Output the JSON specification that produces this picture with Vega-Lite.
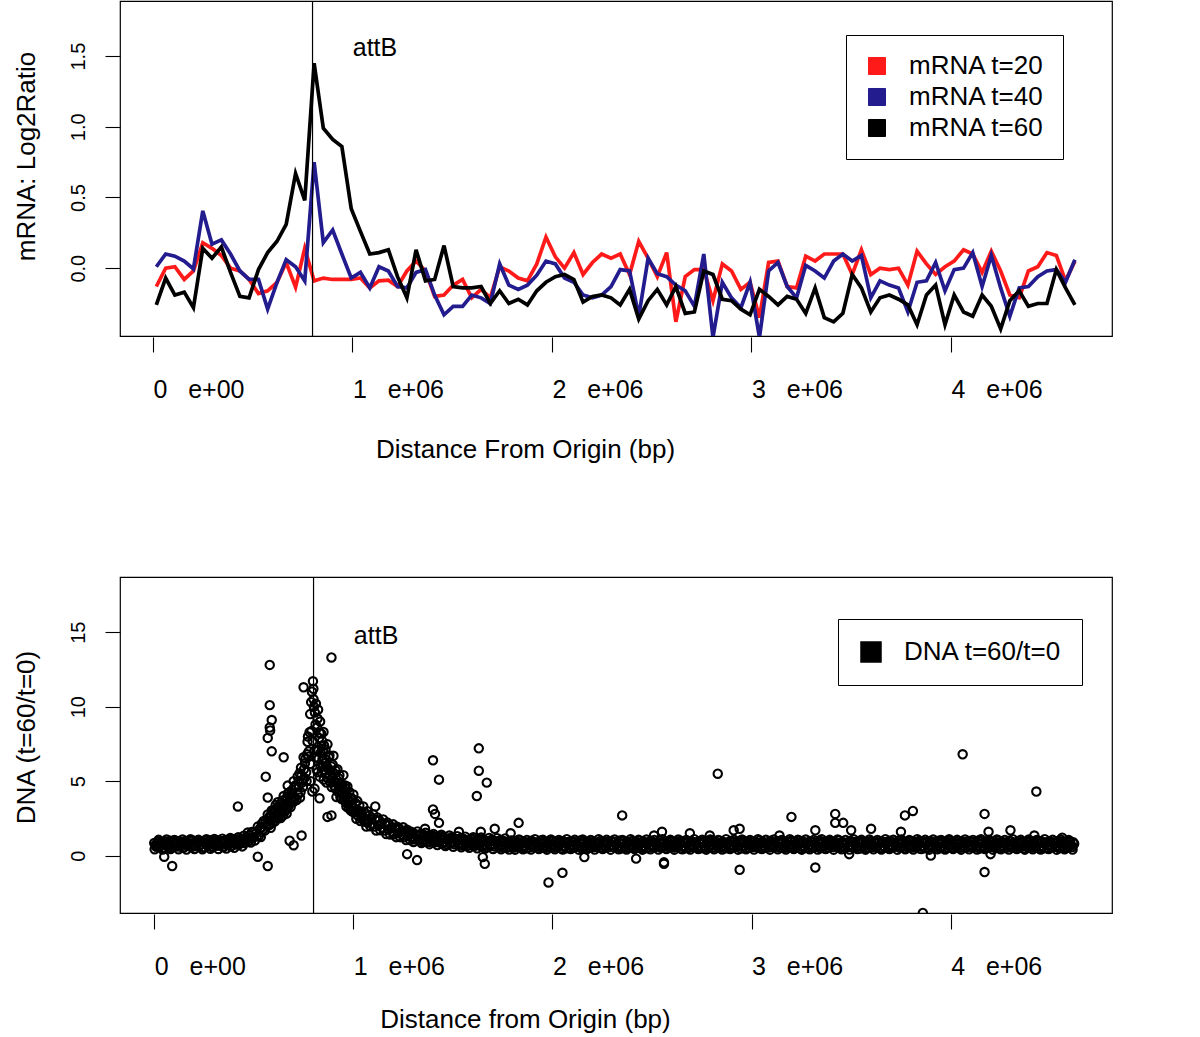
{
"$schema":"https://vega.github.io/schema/vega-lite/v6.json",
"background":"white",
"padding":{"left":12,"top":-1,"right":0,"bottom":0},
"spacing":112,
"resolve":{"scale":{"color":"independent"},"legend":{"color":"independent"}},
"config":{
"font":"Liberation Sans",
"view":{"stroke":"black","strokeWidth":1.2},
"axis":{"grid":false,"domain":false,"tickColor":"black","tickWidth":1.1,"tickSize":15,"labelColor":"black","titleColor":"black","labelFont":"Liberation Sans","titleFont":"Liberation Sans","titleFontWeight":"normal","labelFlush":false,"labelOverlap":false,"labelBound":false},
"legend":{"labelFont":"Liberation Sans","labelFontSize":26,"labelColor":"black","strokeColor":"black","fillColor":"white"}
},
"datasets":{
"mrna":[
{"x":0.017,"s":"mRNA t=20","v":-0.13},{"x":0.064,"s":"mRNA t=20","v":0.00},{"x":0.110,"s":"mRNA t=20","v":0.01},{"x":0.157,"s":"mRNA t=20","v":-0.08},{"x":0.203,"s":"mRNA t=20","v":-0.02},{"x":0.250,"s":"mRNA t=20","v":0.18},{"x":0.296,"s":"mRNA t=20","v":0.14},{"x":0.343,"s":"mRNA t=20","v":0.09},{"x":0.389,"s":"mRNA t=20","v":0.00},{"x":0.436,"s":"mRNA t=20","v":-0.02},
{"x":0.482,"s":"mRNA t=20","v":-0.08},{"x":0.529,"s":"mRNA t=20","v":-0.18},{"x":0.575,"s":"mRNA t=20","v":-0.16},{"x":0.622,"s":"mRNA t=20","v":-0.10},{"x":0.668,"s":"mRNA t=20","v":0.04},{"x":0.715,"s":"mRNA t=20","v":-0.135},{"x":0.761,"s":"mRNA t=20","v":0.14},{"x":0.808,"s":"mRNA t=20","v":-0.09},{"x":0.854,"s":"mRNA t=20","v":-0.07},{"x":0.901,"s":"mRNA t=20","v":-0.08},
{"x":0.947,"s":"mRNA t=20","v":-0.08},{"x":0.994,"s":"mRNA t=20","v":-0.08},{"x":1.040,"s":"mRNA t=20","v":-0.07},{"x":1.087,"s":"mRNA t=20","v":-0.14},{"x":1.133,"s":"mRNA t=20","v":-0.09},{"x":1.180,"s":"mRNA t=20","v":-0.085},{"x":1.226,"s":"mRNA t=20","v":-0.13},{"x":1.273,"s":"mRNA t=20","v":-0.02},{"x":1.319,"s":"mRNA t=20","v":0.05},{"x":1.366,"s":"mRNA t=20","v":-0.02},
{"x":1.412,"s":"mRNA t=20","v":-0.20},{"x":1.459,"s":"mRNA t=20","v":-0.19},{"x":1.505,"s":"mRNA t=20","v":-0.12},{"x":1.552,"s":"mRNA t=20","v":-0.08},{"x":1.598,"s":"mRNA t=20","v":-0.21},{"x":1.645,"s":"mRNA t=20","v":-0.15},{"x":1.691,"s":"mRNA t=20","v":-0.21},{"x":1.738,"s":"mRNA t=20","v":0.01},{"x":1.784,"s":"mRNA t=20","v":-0.02},{"x":1.831,"s":"mRNA t=20","v":-0.07},
{"x":1.877,"s":"mRNA t=20","v":-0.09},{"x":1.924,"s":"mRNA t=20","v":0.03},{"x":1.970,"s":"mRNA t=20","v":0.22},{"x":2.017,"s":"mRNA t=20","v":0.08},{"x":2.063,"s":"mRNA t=20","v":0.00},{"x":2.110,"s":"mRNA t=20","v":0.11},{"x":2.156,"s":"mRNA t=20","v":-0.045},{"x":2.203,"s":"mRNA t=20","v":0.04},{"x":2.249,"s":"mRNA t=20","v":0.10},{"x":2.296,"s":"mRNA t=20","v":0.07},
{"x":2.342,"s":"mRNA t=20","v":0.10},{"x":2.389,"s":"mRNA t=20","v":-0.045},{"x":2.435,"s":"mRNA t=20","v":0.19},{"x":2.482,"s":"mRNA t=20","v":0.07},{"x":2.528,"s":"mRNA t=20","v":-0.06},{"x":2.575,"s":"mRNA t=20","v":0.11},{"x":2.621,"s":"mRNA t=20","v":-0.38},{"x":2.668,"s":"mRNA t=20","v":-0.06},{"x":2.714,"s":"mRNA t=20","v":-0.01},{"x":2.761,"s":"mRNA t=20","v":-0.01},
{"x":2.807,"s":"mRNA t=20","v":-0.23},{"x":2.854,"s":"mRNA t=20","v":0.03},{"x":2.900,"s":"mRNA t=20","v":-0.02},{"x":2.947,"s":"mRNA t=20","v":-0.15},{"x":2.993,"s":"mRNA t=20","v":-0.10},{"x":3.040,"s":"mRNA t=20","v":-0.35},{"x":3.086,"s":"mRNA t=20","v":0.04},{"x":3.133,"s":"mRNA t=20","v":0.05},{"x":3.179,"s":"mRNA t=20","v":-0.13},{"x":3.226,"s":"mRNA t=20","v":-0.14},
{"x":3.272,"s":"mRNA t=20","v":0.085},{"x":3.319,"s":"mRNA t=20","v":0.05},{"x":3.365,"s":"mRNA t=20","v":0.10},{"x":3.412,"s":"mRNA t=20","v":0.10},{"x":3.458,"s":"mRNA t=20","v":0.10},{"x":3.505,"s":"mRNA t=20","v":-0.045},{"x":3.551,"s":"mRNA t=20","v":0.13},{"x":3.598,"s":"mRNA t=20","v":-0.045},{"x":3.644,"s":"mRNA t=20","v":0.00},{"x":3.691,"s":"mRNA t=20","v":-0.01},
{"x":3.737,"s":"mRNA t=20","v":0.00},{"x":3.784,"s":"mRNA t=20","v":-0.12},{"x":3.830,"s":"mRNA t=20","v":0.12},{"x":3.877,"s":"mRNA t=20","v":0.03},{"x":3.923,"s":"mRNA t=20","v":-0.045},{"x":3.970,"s":"mRNA t=20","v":0.01},{"x":4.016,"s":"mRNA t=20","v":0.05},{"x":4.063,"s":"mRNA t=20","v":0.13},{"x":4.109,"s":"mRNA t=20","v":0.10},{"x":4.156,"s":"mRNA t=20","v":-0.03},
{"x":4.202,"s":"mRNA t=20","v":0.12},{"x":4.249,"s":"mRNA t=20","v":-0.02},{"x":4.295,"s":"mRNA t=20","v":-0.19},{"x":4.342,"s":"mRNA t=20","v":-0.21},{"x":4.388,"s":"mRNA t=20","v":-0.02},{"x":4.435,"s":"mRNA t=20","v":0.01},{"x":4.481,"s":"mRNA t=20","v":0.11},{"x":4.528,"s":"mRNA t=20","v":0.09},{"x":4.574,"s":"mRNA t=20","v":-0.09},{"x":4.621,"s":"mRNA t=20","v":0.05},
{"x":0.017,"s":"mRNA t=40","v":0.01},{"x":0.064,"s":"mRNA t=40","v":0.10},{"x":0.110,"s":"mRNA t=40","v":0.085},{"x":0.157,"s":"mRNA t=40","v":0.05},{"x":0.203,"s":"mRNA t=40","v":-0.005},{"x":0.250,"s":"mRNA t=40","v":0.405},{"x":0.296,"s":"mRNA t=40","v":0.17},{"x":0.343,"s":"mRNA t=40","v":0.20},{"x":0.389,"s":"mRNA t=40","v":0.10},{"x":0.436,"s":"mRNA t=40","v":-0.02},
{"x":0.482,"s":"mRNA t=40","v":-0.08},{"x":0.529,"s":"mRNA t=40","v":-0.08},{"x":0.575,"s":"mRNA t=40","v":-0.29},{"x":0.622,"s":"mRNA t=40","v":-0.10},{"x":0.668,"s":"mRNA t=40","v":0.06},{"x":0.715,"s":"mRNA t=40","v":0.01},{"x":0.761,"s":"mRNA t=40","v":-0.09},{"x":0.808,"s":"mRNA t=40","v":0.75},{"x":0.854,"s":"mRNA t=40","v":0.18},{"x":0.901,"s":"mRNA t=40","v":0.27},
{"x":0.947,"s":"mRNA t=40","v":0.10},{"x":0.994,"s":"mRNA t=40","v":-0.07},{"x":1.040,"s":"mRNA t=40","v":-0.03},{"x":1.087,"s":"mRNA t=40","v":-0.14},{"x":1.133,"s":"mRNA t=40","v":0.01},{"x":1.180,"s":"mRNA t=40","v":-0.02},{"x":1.226,"s":"mRNA t=40","v":-0.13},{"x":1.273,"s":"mRNA t=40","v":-0.14},{"x":1.319,"s":"mRNA t=40","v":-0.03},{"x":1.366,"s":"mRNA t=40","v":-0.01},
{"x":1.412,"s":"mRNA t=40","v":-0.19},{"x":1.459,"s":"mRNA t=40","v":-0.33},{"x":1.505,"s":"mRNA t=40","v":-0.27},{"x":1.552,"s":"mRNA t=40","v":-0.27},{"x":1.598,"s":"mRNA t=40","v":-0.19},{"x":1.645,"s":"mRNA t=40","v":-0.21},{"x":1.691,"s":"mRNA t=40","v":-0.25},{"x":1.738,"s":"mRNA t=40","v":0.03},{"x":1.784,"s":"mRNA t=40","v":-0.12},{"x":1.831,"s":"mRNA t=40","v":-0.15},
{"x":1.877,"s":"mRNA t=40","v":-0.12},{"x":1.924,"s":"mRNA t=40","v":-0.05},{"x":1.970,"s":"mRNA t=40","v":0.05},{"x":2.017,"s":"mRNA t=40","v":0.03},{"x":2.063,"s":"mRNA t=40","v":-0.07},{"x":2.110,"s":"mRNA t=40","v":-0.10},{"x":2.156,"s":"mRNA t=40","v":-0.19},{"x":2.203,"s":"mRNA t=40","v":-0.21},{"x":2.249,"s":"mRNA t=40","v":-0.19},{"x":2.296,"s":"mRNA t=40","v":-0.13},
{"x":2.342,"s":"mRNA t=40","v":-0.01},{"x":2.389,"s":"mRNA t=40","v":-0.02},{"x":2.435,"s":"mRNA t=40","v":-0.34},{"x":2.482,"s":"mRNA t=40","v":0.07},{"x":2.528,"s":"mRNA t=40","v":-0.04},{"x":2.575,"s":"mRNA t=40","v":-0.06},{"x":2.621,"s":"mRNA t=40","v":-0.12},{"x":2.668,"s":"mRNA t=40","v":-0.16},{"x":2.714,"s":"mRNA t=40","v":-0.27},{"x":2.761,"s":"mRNA t=40","v":0.10},
{"x":2.807,"s":"mRNA t=40","v":-0.49},{"x":2.854,"s":"mRNA t=40","v":-0.10},{"x":2.900,"s":"mRNA t=40","v":-0.21},{"x":2.947,"s":"mRNA t=40","v":-0.28},{"x":2.993,"s":"mRNA t=40","v":-0.10},{"x":3.040,"s":"mRNA t=40","v":-0.49},{"x":3.086,"s":"mRNA t=40","v":-0.02},{"x":3.133,"s":"mRNA t=40","v":0.04},{"x":3.179,"s":"mRNA t=40","v":-0.13},{"x":3.226,"s":"mRNA t=40","v":-0.21},
{"x":3.272,"s":"mRNA t=40","v":0.02},{"x":3.319,"s":"mRNA t=40","v":-0.02},{"x":3.365,"s":"mRNA t=40","v":-0.07},{"x":3.412,"s":"mRNA t=40","v":0.05},{"x":3.458,"s":"mRNA t=40","v":0.10},{"x":3.505,"s":"mRNA t=40","v":0.05},{"x":3.551,"s":"mRNA t=40","v":0.09},{"x":3.598,"s":"mRNA t=40","v":-0.21},{"x":3.644,"s":"mRNA t=40","v":-0.09},{"x":3.691,"s":"mRNA t=40","v":-0.12},
{"x":3.737,"s":"mRNA t=40","v":-0.14},{"x":3.784,"s":"mRNA t=40","v":-0.31},{"x":3.830,"s":"mRNA t=40","v":-0.10},{"x":3.877,"s":"mRNA t=40","v":-0.09},{"x":3.923,"s":"mRNA t=40","v":0.04},{"x":3.970,"s":"mRNA t=40","v":-0.16},{"x":4.016,"s":"mRNA t=40","v":-0.01},{"x":4.063,"s":"mRNA t=40","v":0.00},{"x":4.109,"s":"mRNA t=40","v":0.11},{"x":4.156,"s":"mRNA t=40","v":-0.13},
{"x":4.202,"s":"mRNA t=40","v":0.09},{"x":4.249,"s":"mRNA t=40","v":-0.14},{"x":4.295,"s":"mRNA t=40","v":-0.34},{"x":4.342,"s":"mRNA t=40","v":-0.14},{"x":4.388,"s":"mRNA t=40","v":-0.13},{"x":4.435,"s":"mRNA t=40","v":-0.06},{"x":4.481,"s":"mRNA t=40","v":-0.02},{"x":4.528,"s":"mRNA t=40","v":-0.01},{"x":4.574,"s":"mRNA t=40","v":-0.10},{"x":4.621,"s":"mRNA t=40","v":0.06},
{"x":0.017,"s":"mRNA t=60","v":-0.26},{"x":0.064,"s":"mRNA t=60","v":-0.07},{"x":0.110,"s":"mRNA t=60","v":-0.19},{"x":0.157,"s":"mRNA t=60","v":-0.17},{"x":0.203,"s":"mRNA t=60","v":-0.28},{"x":0.250,"s":"mRNA t=60","v":0.14},{"x":0.296,"s":"mRNA t=60","v":0.07},{"x":0.343,"s":"mRNA t=60","v":0.15},{"x":0.389,"s":"mRNA t=60","v":-0.03},{"x":0.436,"s":"mRNA t=60","v":-0.20},
{"x":0.482,"s":"mRNA t=60","v":-0.21},{"x":0.529,"s":"mRNA t=60","v":-0.01},{"x":0.575,"s":"mRNA t=60","v":0.11},{"x":0.622,"s":"mRNA t=60","v":0.19},{"x":0.668,"s":"mRNA t=60","v":0.31},{"x":0.715,"s":"mRNA t=60","v":0.67},{"x":0.761,"s":"mRNA t=60","v":0.48},{"x":0.808,"s":"mRNA t=60","v":1.45},{"x":0.854,"s":"mRNA t=60","v":0.99},{"x":0.901,"s":"mRNA t=60","v":0.91},
{"x":0.947,"s":"mRNA t=60","v":0.86},{"x":0.994,"s":"mRNA t=60","v":0.42},{"x":1.040,"s":"mRNA t=60","v":0.26},{"x":1.087,"s":"mRNA t=60","v":0.10},{"x":1.133,"s":"mRNA t=60","v":0.11},{"x":1.180,"s":"mRNA t=60","v":0.13},{"x":1.226,"s":"mRNA t=60","v":-0.06},{"x":1.273,"s":"mRNA t=60","v":-0.21},{"x":1.319,"s":"mRNA t=60","v":0.13},{"x":1.366,"s":"mRNA t=60","v":-0.09},
{"x":1.412,"s":"mRNA t=60","v":-0.08},{"x":1.459,"s":"mRNA t=60","v":0.16},{"x":1.505,"s":"mRNA t=60","v":-0.13},{"x":1.552,"s":"mRNA t=60","v":-0.14},{"x":1.598,"s":"mRNA t=60","v":-0.14},{"x":1.645,"s":"mRNA t=60","v":-0.13},{"x":1.691,"s":"mRNA t=60","v":-0.25},{"x":1.738,"s":"mRNA t=60","v":-0.16},{"x":1.784,"s":"mRNA t=60","v":-0.25},{"x":1.831,"s":"mRNA t=60","v":-0.22},
{"x":1.877,"s":"mRNA t=60","v":-0.26},{"x":1.924,"s":"mRNA t=60","v":-0.16},{"x":1.970,"s":"mRNA t=60","v":-0.10},{"x":2.017,"s":"mRNA t=60","v":-0.06},{"x":2.063,"s":"mRNA t=60","v":-0.045},{"x":2.110,"s":"mRNA t=60","v":-0.08},{"x":2.156,"s":"mRNA t=60","v":-0.24},{"x":2.203,"s":"mRNA t=60","v":-0.20},{"x":2.249,"s":"mRNA t=60","v":-0.19},{"x":2.296,"s":"mRNA t=60","v":-0.21},
{"x":2.342,"s":"mRNA t=60","v":-0.26},{"x":2.389,"s":"mRNA t=60","v":-0.15},{"x":2.435,"s":"mRNA t=60","v":-0.36},{"x":2.482,"s":"mRNA t=60","v":-0.23},{"x":2.528,"s":"mRNA t=60","v":-0.15},{"x":2.575,"s":"mRNA t=60","v":-0.26},{"x":2.621,"s":"mRNA t=60","v":-0.13},{"x":2.668,"s":"mRNA t=60","v":-0.32},{"x":2.714,"s":"mRNA t=60","v":-0.31},{"x":2.761,"s":"mRNA t=60","v":-0.02},
{"x":2.807,"s":"mRNA t=60","v":-0.045},{"x":2.854,"s":"mRNA t=60","v":-0.22},{"x":2.900,"s":"mRNA t=60","v":-0.23},{"x":2.947,"s":"mRNA t=60","v":-0.29},{"x":2.993,"s":"mRNA t=60","v":-0.33},{"x":3.040,"s":"mRNA t=60","v":-0.15},{"x":3.086,"s":"mRNA t=60","v":-0.20},{"x":3.133,"s":"mRNA t=60","v":-0.26},{"x":3.179,"s":"mRNA t=60","v":-0.20},{"x":3.226,"s":"mRNA t=60","v":-0.22},
{"x":3.272,"s":"mRNA t=60","v":-0.32},{"x":3.319,"s":"mRNA t=60","v":-0.14},{"x":3.365,"s":"mRNA t=60","v":-0.35},{"x":3.412,"s":"mRNA t=60","v":-0.38},{"x":3.458,"s":"mRNA t=60","v":-0.32},{"x":3.505,"s":"mRNA t=60","v":-0.045},{"x":3.551,"s":"mRNA t=60","v":-0.14},{"x":3.598,"s":"mRNA t=60","v":-0.31},{"x":3.644,"s":"mRNA t=60","v":-0.21},{"x":3.691,"s":"mRNA t=60","v":-0.19},
{"x":3.737,"s":"mRNA t=60","v":-0.22},{"x":3.784,"s":"mRNA t=60","v":-0.26},{"x":3.830,"s":"mRNA t=60","v":-0.40},{"x":3.877,"s":"mRNA t=60","v":-0.19},{"x":3.923,"s":"mRNA t=60","v":-0.12},{"x":3.970,"s":"mRNA t=60","v":-0.40},{"x":4.016,"s":"mRNA t=60","v":-0.19},{"x":4.063,"s":"mRNA t=60","v":-0.31},{"x":4.109,"s":"mRNA t=60","v":-0.34},{"x":4.156,"s":"mRNA t=60","v":-0.19},
{"x":4.202,"s":"mRNA t=60","v":-0.27},{"x":4.249,"s":"mRNA t=60","v":-0.43},{"x":4.295,"s":"mRNA t=60","v":-0.23},{"x":4.342,"s":"mRNA t=60","v":-0.16},{"x":4.388,"s":"mRNA t=60","v":-0.27},{"x":4.435,"s":"mRNA t=60","v":-0.25},{"x":4.481,"s":"mRNA t=60","v":-0.25},{"x":4.528,"s":"mRNA t=60","v":-0.01},{"x":4.574,"s":"mRNA t=60","v":-0.14},{"x":4.621,"s":"mRNA t=60","v":-0.26}
],
"dna":[
{"x":0.00,"y":0.85},{"x":0.01,"y":0.60},{"x":0.02,"y":0.95},{"x":0.03,"y":0.70},{"x":0.04,"y":0.90},{"x":0.05,"y":0.55},{"x":0.06,"y":0.80},{"x":0.07,"y":0.65},{"x":0.08,"y":1.00},{"x":0.09,"y":0.60},
{"x":0.10,"y":0.86},{"x":0.11,"y":0.61},{"x":0.12,"y":0.96},{"x":0.13,"y":0.71},{"x":0.14,"y":0.91},{"x":0.15,"y":0.56},{"x":0.16,"y":0.81},{"x":0.17,"y":0.66},{"x":0.18,"y":1.01},{"x":0.19,"y":0.61},
{"x":0.20,"y":0.88},{"x":0.21,"y":0.63},{"x":0.22,"y":0.98},{"x":0.23,"y":0.73},{"x":0.24,"y":0.93},{"x":0.25,"y":0.58},{"x":0.26,"y":0.83},{"x":0.27,"y":0.68},{"x":0.28,"y":1.03},{"x":0.29,"y":0.63},
{"x":0.30,"y":0.91},{"x":0.31,"y":0.66},{"x":0.32,"y":1.01},{"x":0.33,"y":0.76},{"x":0.34,"y":0.96},{"x":0.35,"y":0.61},{"x":0.36,"y":0.86},{"x":0.37,"y":0.71},{"x":0.38,"y":1.06},{"x":0.39,"y":0.68},
{"x":0.40,"y":1.00},{"x":0.41,"y":0.75},{"x":0.42,"y":1.10},{"x":0.43,"y":0.85},{"x":0.44,"y":1.10},
{"x":0.005,"y":0.70},{"x":0.015,"y":0.90},{"x":0.025,"y":0.60},{"x":0.035,"y":0.85},{"x":0.045,"y":0.50},{"x":0.055,"y":0.95},{"x":0.065,"y":0.65},{"x":0.075,"y":0.80},{"x":0.085,"y":0.55},{"x":0.095,"y":1.00},
{"x":0.105,"y":0.72},{"x":0.115,"y":0.92},{"x":0.125,"y":0.62},{"x":0.135,"y":0.87},{"x":0.145,"y":0.52},{"x":0.155,"y":0.97},{"x":0.165,"y":0.67},{"x":0.175,"y":0.82},{"x":0.185,"y":0.57},{"x":0.195,"y":1.02},
{"x":0.205,"y":0.74},{"x":0.215,"y":0.94},{"x":0.225,"y":0.64},{"x":0.235,"y":0.89},{"x":0.245,"y":0.54},{"x":0.255,"y":0.99},{"x":0.265,"y":0.69},{"x":0.275,"y":0.84},{"x":0.285,"y":0.59},{"x":0.295,"y":1.04},
{"x":0.305,"y":0.78},{"x":0.315,"y":0.98},{"x":0.325,"y":0.68},{"x":0.335,"y":0.93},{"x":0.345,"y":0.58},{"x":0.355,"y":1.03},{"x":0.365,"y":0.73},{"x":0.375,"y":0.88},{"x":0.385,"y":0.63},{"x":0.395,"y":1.08},
{"x":0.405,"y":0.85},{"x":0.415,"y":1.05},{"x":0.425,"y":0.75},{"x":0.435,"y":1.00},{"x":0.445,"y":0.90},
{"x":0.002,"y":0.43},{"x":0.022,"y":1.06},{"x":0.042,"y":0.41},{"x":0.062,"y":1.08},{"x":0.082,"y":0.45},{"x":0.102,"y":1.05},{"x":0.122,"y":0.43},{"x":0.142,"y":1.08},{"x":0.162,"y":0.41},{"x":0.182,"y":1.10},
{"x":0.202,"y":0.45},{"x":0.222,"y":1.06},{"x":0.242,"y":0.43},{"x":0.262,"y":1.10},{"x":0.282,"y":0.46},{"x":0.302,"y":1.12},{"x":0.322,"y":0.45},{"x":0.342,"y":1.14},{"x":0.362,"y":0.48},{"x":0.382,"y":1.18},
{"x":0.402,"y":0.52},{"x":0.422,"y":1.24},{"x":0.442,"y":0.62},
{"x":0.450,"y":1.34},{"x":0.455,"y":0.85},{"x":0.460,"y":1.22},{"x":0.465,"y":1.04},{"x":0.470,"y":1.55},{"x":0.475,"y":0.96},{"x":0.480,"y":1.38},{"x":0.485,"y":0.88},{"x":0.490,"y":1.58},{"x":0.495,"y":1.20},
{"x":0.500,"y":1.57},{"x":0.505,"y":1.02},{"x":0.510,"y":1.50},{"x":0.515,"y":1.30},{"x":0.520,"y":1.95},{"x":0.525,"y":1.30},{"x":0.530,"y":1.80},{"x":0.535,"y":1.25},{"x":0.540,"y":2.15},{"x":0.545,"y":1.75},
{"x":0.550,"y":2.32},{"x":0.555,"y":1.69},{"x":0.560,"y":2.25},{"x":0.565,"y":2.06},{"x":0.570,"y":2.77},{"x":0.575,"y":2.04},{"x":0.580,"y":2.64},{"x":0.585,"y":1.87},{"x":0.590,"y":3.03},{"x":0.595,"y":2.50},
{"x":0.600,"y":3.06},{"x":0.605,"y":2.29},{"x":0.610,"y":2.96},{"x":0.615,"y":2.74},{"x":0.620,"y":3.59},{"x":0.625,"y":2.64},{"x":0.630,"y":3.42},{"x":0.635,"y":2.52},{"x":0.640,"y":3.29},{"x":0.645,"y":3.02},
{"x":0.650,"y":4.00},{"x":0.655,"y":2.96},{"x":0.660,"y":3.73},{"x":0.665,"y":2.83},{"x":0.670,"y":4.16},{"x":0.675,"y":3.56},{"x":0.680,"y":4.28},{"x":0.685,"y":3.26},{"x":0.690,"y":4.16},{"x":0.695,"y":3.86},
{"x":0.700,"y":5.00},{"x":0.705,"y":3.82},{"x":0.710,"y":4.72},{"x":0.715,"y":3.73},{"x":0.720,"y":5.31},{"x":0.725,"y":4.64},{"x":0.730,"y":5.53},{"x":0.735,"y":4.27},{"x":0.740,"y":5.40},{"x":0.745,"y":5.10},
{"x":0.750,"y":6.60},{"x":0.755,"y":5.20},{"x":0.760,"y":6.52},{"x":0.765,"y":5.00},{"x":0.770,"y":7.64},{"x":0.775,"y":6.64},{"x":0.780,"y":8.28},{"x":0.785,"y":6.16},{"x":0.790,"y":8.36},{"x":0.795,"y":7.71},
{"x":0.800,"y":10.5},{"x":0.805,"y":7.05},{"x":0.810,"y":8.80},{"x":0.815,"y":5.80},{"x":0.820,"y":9.20},{"x":0.825,"y":7.07},{"x":0.830,"y":8.23},{"x":0.835,"y":6.00},{"x":0.840,"y":7.37},{"x":0.845,"y":6.48},
{"x":0.850,"y":8.30},{"x":0.855,"y":5.77},{"x":0.860,"y":7.13},{"x":0.865,"y":4.90},{"x":0.870,"y":7.47},{"x":0.875,"y":5.83},{"x":0.880,"y":6.72},{"x":0.885,"y":4.92},{"x":0.890,"y":5.99},{"x":0.895,"y":5.27},
{"x":0.900,"y":6.70},{"x":0.905,"y":4.66},{"x":0.910,"y":5.73},{"x":0.915,"y":3.93},{"x":0.920,"y":5.80},{"x":0.925,"y":4.70},{"x":0.930,"y":5.40},{"x":0.935,"y":3.90},{"x":0.940,"y":4.80},{"x":0.945,"y":4.20},
{"x":0.950,"y":5.40},{"x":0.955,"y":3.70},{"x":0.960,"y":4.52},{"x":0.965,"y":3.30},{"x":0.970,"y":4.64},{"x":0.975,"y":3.74},{"x":0.980,"y":4.28},{"x":0.985,"y":3.06},{"x":0.990,"y":3.76},{"x":0.995,"y":3.26},
{"x":1.000,"y":4.10},{"x":1.005,"y":2.91},{"x":1.010,"y":3.53},{"x":1.015,"y":2.48},{"x":1.020,"y":3.66},{"x":1.025,"y":2.89},{"x":1.030,"y":3.37},{"x":1.035,"y":2.32},{"x":1.040,"y":2.92},{"x":1.045,"y":2.57},
{"x":1.050,"y":3.30},{"x":1.055,"y":2.29},{"x":1.060,"y":2.84},{"x":1.065,"y":1.95},{"x":1.070,"y":2.98},{"x":1.075,"y":2.33},{"x":1.080,"y":2.70},{"x":1.085,"y":1.97},{"x":1.090,"y":2.44},{"x":1.095,"y":2.16},
{"x":1.100,"y":2.78},{"x":1.105,"y":1.95},{"x":1.110,"y":2.42},{"x":1.115,"y":1.69},{"x":1.120,"y":2.56},{"x":1.125,"y":2.03},{"x":1.130,"y":2.37},{"x":1.135,"y":1.71},{"x":1.140,"y":2.13},{"x":1.145,"y":1.87},
{"x":1.150,"y":2.43},{"x":1.155,"y":1.68},{"x":1.160,"y":2.11},{"x":1.165,"y":1.45},{"x":1.170,"y":2.23},{"x":1.175,"y":1.75},{"x":1.180,"y":2.08},{"x":1.185,"y":1.42},{"x":1.190,"y":1.85},{"x":1.195,"y":1.59},
{"x":1.200,"y":2.10},{"x":1.205,"y":1.44},{"x":1.210,"y":1.82},{"x":1.215,"y":1.24},{"x":1.220,"y":1.94},{"x":1.225,"y":1.52},{"x":1.230,"y":1.82},{"x":1.235,"y":1.24},{"x":1.240,"y":1.62},{"x":1.245,"y":1.40},
{"x":1.250,"y":1.90},{"x":1.255,"y":1.24},{"x":1.260,"y":1.62},{"x":1.265,"y":1.04},{"x":1.270,"y":1.74},{"x":1.275,"y":1.32},{"x":1.280,"y":1.62},{"x":1.285,"y":1.04},{"x":1.290,"y":1.43},{"x":1.295,"y":1.22},
{"x":0.783,"y":9.5},{"x":0.788,"y":10.3},{"x":0.792,"y":11.0},{"x":0.797,"y":11.7},{"x":0.799,"y":11.2},{"x":0.802,"y":10.0},{"x":0.807,"y":9.6},{"x":0.812,"y":10.2},{"x":0.786,"y":5.0},{"x":0.794,"y":4.3},
{"x":0.805,"y":4.5},{"x":0.818,"y":8.6},{"x":0.823,"y":9.8},{"x":0.828,"y":7.9},{"x":0.833,"y":9.0},{"x":0.838,"y":8.2},{"x":0.843,"y":7.7},{"x":0.848,"y":7.0},{"x":0.853,"y":7.4},{"x":0.858,"y":6.2},
{"x":0.772,"y":8.0},{"x":0.776,"y":7.0},{"x":0.768,"y":6.8},{"x":0.763,"y":5.6},{"x":0.757,"y":6.2},{"x":0.752,"y":5.8},{"x":0.747,"y":4.6},{"x":0.742,"y":4.9},{"x":0.737,"y":5.9},{"x":0.732,"y":3.9},
{"x":0.727,"y":5.0},{"x":0.722,"y":4.1},{"x":0.811,"y":6.6},{"x":0.816,"y":7.1},{"x":0.821,"y":5.6},{"x":0.826,"y":6.5},{"x":0.831,"y":5.3},{"x":0.836,"y":6.9},{"x":0.841,"y":5.6},{"x":0.846,"y":6.0},
{"x":0.851,"y":5.1},{"x":0.856,"y":6.5},{"x":0.861,"y":5.5},{"x":0.866,"y":6.0},{"x":0.871,"y":5.2},{"x":0.876,"y":6.6},{"x":0.881,"y":5.4},{"x":0.886,"y":5.7},{"x":0.891,"y":4.6},{"x":0.896,"y":6.1},
{"x":0.901,"y":5.0},{"x":0.906,"y":5.5},{"x":0.911,"y":4.5},{"x":0.916,"y":4.9},{"x":0.921,"y":4.3},{"x":0.926,"y":5.2},{"x":0.931,"y":4.4},{"x":0.936,"y":4.6},{"x":0.941,"y":3.8},{"x":0.946,"y":4.7},
{"x":0.951,"y":3.9},{"x":0.956,"y":4.3},{"x":0.961,"y":3.6},{"x":0.966,"y":4.0},{"x":0.971,"y":3.5},{"x":0.976,"y":3.2},{"x":0.981,"y":3.6},{"x":0.986,"y":3.9},{"x":0.991,"y":3.0},{"x":0.996,"y":3.8},
{"x":1.001,"y":2.9},{"x":1.011,"y":3.0},{"x":1.021,"y":2.7},{"x":1.031,"y":3.0},{"x":1.041,"y":2.5},{"x":1.051,"y":2.6},{"x":1.061,"y":2.3},{"x":1.071,"y":2.2},{"x":0.703,"y":4.6},{"x":0.698,"y":3.6},
{"x":0.693,"y":4.4},{"x":0.688,"y":3.9},{"x":0.683,"y":3.5},{"x":0.678,"y":4.0},{"x":0.673,"y":3.3},{"x":0.668,"y":3.9},{"x":0.663,"y":3.1},{"x":0.658,"y":3.4},{"x":0.653,"y":3.3},{"x":0.648,"y":2.7},
{"x":0.643,"y":3.7},{"x":0.638,"y":3.0},{"x":0.633,"y":2.9},{"x":0.628,"y":3.3},{"x":0.623,"y":2.5},{"x":0.618,"y":3.2},{"x":0.613,"y":2.6},{"x":0.608,"y":2.7},{"x":0.603,"y":2.5},{"x":0.598,"y":2.9},
{"x":0.593,"y":2.2},{"x":0.588,"y":2.7},{"x":0.583,"y":2.1},{"x":0.578,"y":2.5},
{"x":1.30,"y":1.50},{"x":1.31,"y":1.08},{"x":1.32,"y":1.31},{"x":1.33,"y":1.14},{"x":1.34,"y":1.47},{"x":1.35,"y":1.05},{"x":1.36,"y":1.28},{"x":1.37,"y":0.91},{"x":1.38,"y":1.29},{"x":1.39,"y":1.07},
{"x":1.40,"y":1.30},{"x":1.41,"y":0.89},{"x":1.42,"y":1.13},{"x":1.43,"y":0.96},{"x":1.44,"y":1.30},{"x":1.45,"y":0.89},{"x":1.46,"y":1.12},{"x":1.47,"y":0.76},{"x":1.48,"y":1.15},{"x":1.49,"y":0.93},
{"x":1.50,"y":1.17},{"x":1.51,"y":0.76},{"x":1.52,"y":1.00},{"x":1.53,"y":0.84},{"x":1.54,"y":1.18},{"x":1.55,"y":0.77},{"x":1.56,"y":1.01},{"x":1.57,"y":0.65},{"x":1.58,"y":1.04},{"x":1.59,"y":0.83},
{"x":1.60,"y":1.07},{"x":1.61,"y":0.66},{"x":1.62,"y":0.91},{"x":1.63,"y":0.75},{"x":1.64,"y":1.10},{"x":1.65,"y":0.69},{"x":1.66,"y":0.94},{"x":1.67,"y":0.58},{"x":1.68,"y":0.98},{"x":1.69,"y":0.77},
{"x":1.70,"y":1.02},{"x":1.71,"y":0.61},{"x":1.72,"y":0.86},{"x":1.73,"y":0.70},{"x":1.74,"y":1.05},{"x":1.75,"y":0.64},{"x":1.76,"y":0.89},{"x":1.77,"y":0.53},{"x":1.78,"y":0.93},{"x":1.79,"y":0.72},
{"x":1.305,"y":1.24},{"x":1.315,"y":1.42},{"x":1.325,"y":1.10},{"x":1.335,"y":1.33},{"x":1.345,"y":0.96},{"x":1.355,"y":1.39},{"x":1.365,"y":1.07},{"x":1.375,"y":1.20},{"x":1.385,"y":0.93},{"x":1.395,"y":1.36},
{"x":1.405,"y":1.05},{"x":1.415,"y":1.23},{"x":1.425,"y":0.92},{"x":1.435,"y":1.16},{"x":1.445,"y":0.79},{"x":1.455,"y":1.23},{"x":1.465,"y":0.92},{"x":1.475,"y":1.05},{"x":1.485,"y":0.79},{"x":1.495,"y":1.23},
{"x":1.505,"y":0.92},{"x":1.515,"y":1.11},{"x":1.525,"y":0.80},{"x":1.535,"y":1.04},{"x":1.545,"y":0.68},{"x":1.555,"y":1.12},{"x":1.565,"y":0.81},{"x":1.575,"y":0.95},{"x":1.585,"y":0.69},{"x":1.595,"y":1.13},
{"x":1.605,"y":0.82},{"x":1.615,"y":1.01},{"x":1.625,"y":0.71},{"x":1.635,"y":0.95},{"x":1.645,"y":0.60},{"x":1.655,"y":1.04},{"x":1.665,"y":0.74},{"x":1.675,"y":0.88},{"x":1.685,"y":0.63},{"x":1.695,"y":1.07},
{"x":1.705,"y":0.77},{"x":1.715,"y":0.96},{"x":1.725,"y":0.66},{"x":1.735,"y":0.90},{"x":1.745,"y":0.55},{"x":1.755,"y":0.99},{"x":1.765,"y":0.69},{"x":1.775,"y":0.83},{"x":1.785,"y":0.58},{"x":1.795,"y":1.02},
{"x":1.302,"y":0.92},{"x":1.322,"y":1.62},{"x":1.342,"y":0.85},{"x":1.362,"y":1.53},{"x":1.382,"y":0.77},{"x":1.402,"y":1.46},{"x":1.422,"y":0.71},{"x":1.442,"y":1.40},{"x":1.462,"y":0.65},{"x":1.482,"y":1.35},
{"x":1.502,"y":0.60},{"x":1.522,"y":1.31},{"x":1.542,"y":0.56},{"x":1.562,"y":1.27},{"x":1.582,"y":0.52},{"x":1.602,"y":1.23},{"x":1.622,"y":0.49},{"x":1.642,"y":1.21},{"x":1.662,"y":0.47},{"x":1.682,"y":1.19},
{"x":1.702,"y":0.45},{"x":1.722,"y":1.17},{"x":1.742,"y":0.43},{"x":1.762,"y":1.15},{"x":1.782,"y":0.41},
{"x":1.80,"y":0.95},{"x":1.81,"y":0.55},{"x":1.82,"y":0.80},{"x":1.83,"y":0.66},{"x":1.84,"y":1.00},{"x":1.85,"y":0.60},{"x":1.86,"y":0.86},{"x":1.87,"y":0.50},{"x":1.88,"y":0.90},{"x":1.89,"y":0.71},
{"x":1.90,"y":0.92},{"x":1.91,"y":0.57},{"x":1.92,"y":0.78},{"x":1.93,"y":0.64},{"x":1.94,"y":1.02},{"x":1.95,"y":0.58},{"x":1.96,"y":0.84},{"x":1.97,"y":0.52},{"x":1.98,"y":0.88},{"x":1.99,"y":0.70},
{"x":2.00,"y":0.97},{"x":2.01,"y":0.54},{"x":2.02,"y":0.81},{"x":2.03,"y":0.67},{"x":2.04,"y":0.98},{"x":2.05,"y":0.61},{"x":2.06,"y":0.87},{"x":2.07,"y":0.49},{"x":2.08,"y":0.91},{"x":2.09,"y":0.72},
{"x":2.10,"y":0.94},{"x":2.11,"y":0.56},{"x":2.12,"y":0.79},{"x":2.13,"y":0.65},{"x":2.14,"y":1.01},{"x":2.15,"y":0.59},{"x":2.16,"y":0.85},{"x":2.17,"y":0.51},{"x":2.18,"y":0.89},{"x":2.19,"y":0.69},
{"x":2.20,"y":0.90},{"x":2.21,"y":0.58},{"x":2.22,"y":0.83},{"x":2.23,"y":0.62},{"x":2.24,"y":0.99},{"x":2.25,"y":0.56},{"x":2.26,"y":0.88},{"x":2.27,"y":0.53},{"x":2.28,"y":0.93},{"x":2.29,"y":0.68},
{"x":2.30,"y":0.92},{"x":2.31,"y":0.57},{"x":2.32,"y":0.78},{"x":2.33,"y":0.64},{"x":2.34,"y":1.02},{"x":2.35,"y":0.58},{"x":2.36,"y":0.84},{"x":2.37,"y":0.52},{"x":2.38,"y":0.88},{"x":2.39,"y":0.70},
{"x":2.40,"y":0.95},{"x":2.41,"y":0.55},{"x":2.42,"y":0.80},{"x":2.43,"y":0.66},{"x":2.44,"y":1.00},{"x":2.45,"y":0.60},{"x":2.46,"y":0.86},{"x":2.47,"y":0.50},{"x":2.48,"y":0.90},{"x":2.49,"y":0.71},
{"x":2.50,"y":0.94},{"x":2.51,"y":0.56},{"x":2.52,"y":0.79},{"x":2.53,"y":0.65},{"x":2.54,"y":1.01},{"x":2.55,"y":0.59},{"x":2.56,"y":0.85},{"x":2.57,"y":0.51},{"x":2.58,"y":0.89},{"x":2.59,"y":0.69},
{"x":2.60,"y":0.97},{"x":2.61,"y":0.54},{"x":2.62,"y":0.81},{"x":2.63,"y":0.67},{"x":2.64,"y":0.98},{"x":2.65,"y":0.61},{"x":2.66,"y":0.87},{"x":2.67,"y":0.49},{"x":2.68,"y":0.91},{"x":2.69,"y":0.72},
{"x":2.70,"y":0.90},{"x":2.71,"y":0.58},{"x":2.72,"y":0.83},{"x":2.73,"y":0.62},{"x":2.74,"y":0.99},{"x":2.75,"y":0.56},{"x":2.76,"y":0.88},{"x":2.77,"y":0.53},{"x":2.78,"y":0.93},{"x":2.79,"y":0.68},
{"x":2.80,"y":0.95},{"x":2.81,"y":0.55},{"x":2.82,"y":0.80},{"x":2.83,"y":0.66},{"x":2.84,"y":1.00},{"x":2.85,"y":0.60},{"x":2.86,"y":0.86},{"x":2.87,"y":0.50},{"x":2.88,"y":0.90},{"x":2.89,"y":0.71},
{"x":2.90,"y":0.97},{"x":2.91,"y":0.54},{"x":2.92,"y":0.81},{"x":2.93,"y":0.67},{"x":2.94,"y":0.98},{"x":2.95,"y":0.61},{"x":2.96,"y":0.87},{"x":2.97,"y":0.49},{"x":2.98,"y":0.91},{"x":2.99,"y":0.72},
{"x":3.00,"y":0.92},{"x":3.01,"y":0.57},{"x":3.02,"y":0.78},{"x":3.03,"y":0.64},{"x":3.04,"y":1.02},{"x":3.05,"y":0.58},{"x":3.06,"y":0.84},{"x":3.07,"y":0.52},{"x":3.08,"y":0.88},{"x":3.09,"y":0.70},
{"x":3.10,"y":0.90},{"x":3.11,"y":0.58},{"x":3.12,"y":0.83},{"x":3.13,"y":0.62},{"x":3.14,"y":0.99},{"x":3.15,"y":0.56},{"x":3.16,"y":0.88},{"x":3.17,"y":0.53},{"x":3.18,"y":0.93},{"x":3.19,"y":0.68},
{"x":3.20,"y":0.94},{"x":3.21,"y":0.56},{"x":3.22,"y":0.79},{"x":3.23,"y":0.65},{"x":3.24,"y":1.01},{"x":3.25,"y":0.59},{"x":3.26,"y":0.85},{"x":3.27,"y":0.51},{"x":3.28,"y":0.89},{"x":3.29,"y":0.69},
{"x":3.30,"y":0.95},{"x":3.31,"y":0.55},{"x":3.32,"y":0.80},{"x":3.33,"y":0.66},{"x":3.34,"y":1.00},{"x":3.35,"y":0.60},{"x":3.36,"y":0.86},{"x":3.37,"y":0.50},{"x":3.38,"y":0.90},{"x":3.39,"y":0.71},
{"x":3.40,"y":0.92},{"x":3.41,"y":0.57},{"x":3.42,"y":0.78},{"x":3.43,"y":0.64},{"x":3.44,"y":1.02},{"x":3.45,"y":0.58},{"x":3.46,"y":0.84},{"x":3.47,"y":0.52},{"x":3.48,"y":0.88},{"x":3.49,"y":0.70},
{"x":3.50,"y":0.97},{"x":3.51,"y":0.54},{"x":3.52,"y":0.81},{"x":3.53,"y":0.67},{"x":3.54,"y":0.98},{"x":3.55,"y":0.61},{"x":3.56,"y":0.87},{"x":3.57,"y":0.49},{"x":3.58,"y":0.91},{"x":3.59,"y":0.72},
{"x":3.60,"y":0.90},{"x":3.61,"y":0.58},{"x":3.62,"y":0.83},{"x":3.63,"y":0.62},{"x":3.64,"y":0.99},{"x":3.65,"y":0.56},{"x":3.66,"y":0.88},{"x":3.67,"y":0.53},{"x":3.68,"y":0.93},{"x":3.69,"y":0.68},
{"x":3.70,"y":0.94},{"x":3.71,"y":0.56},{"x":3.72,"y":0.79},{"x":3.73,"y":0.65},{"x":3.74,"y":1.01},{"x":3.75,"y":0.59},{"x":3.76,"y":0.85},{"x":3.77,"y":0.51},{"x":3.78,"y":0.89},{"x":3.79,"y":0.69},
{"x":3.80,"y":0.97},{"x":3.81,"y":0.54},{"x":3.82,"y":0.81},{"x":3.83,"y":0.67},{"x":3.84,"y":0.98},{"x":3.85,"y":0.61},{"x":3.86,"y":0.87},{"x":3.87,"y":0.49},{"x":3.88,"y":0.91},{"x":3.89,"y":0.72},
{"x":3.90,"y":0.95},{"x":3.91,"y":0.55},{"x":3.92,"y":0.80},{"x":3.93,"y":0.66},{"x":3.94,"y":1.00},{"x":3.95,"y":0.60},{"x":3.96,"y":0.86},{"x":3.97,"y":0.50},{"x":3.98,"y":0.90},{"x":3.99,"y":0.71},
{"x":4.00,"y":0.90},{"x":4.01,"y":0.58},{"x":4.02,"y":0.83},{"x":4.03,"y":0.62},{"x":4.04,"y":0.99},{"x":4.05,"y":0.56},{"x":4.06,"y":0.88},{"x":4.07,"y":0.53},{"x":4.08,"y":0.93},{"x":4.09,"y":0.68},
{"x":4.10,"y":0.92},{"x":4.11,"y":0.57},{"x":4.12,"y":0.78},{"x":4.13,"y":0.64},{"x":4.14,"y":1.02},{"x":4.15,"y":0.58},{"x":4.16,"y":0.84},{"x":4.17,"y":0.52},{"x":4.18,"y":0.88},{"x":4.19,"y":0.70},
{"x":4.20,"y":0.94},{"x":4.21,"y":0.56},{"x":4.22,"y":0.79},{"x":4.23,"y":0.65},{"x":4.24,"y":1.01},{"x":4.25,"y":0.59},{"x":4.26,"y":0.85},{"x":4.27,"y":0.51},{"x":4.28,"y":0.89},{"x":4.29,"y":0.69},
{"x":4.30,"y":0.97},{"x":4.31,"y":0.54},{"x":4.32,"y":0.81},{"x":4.33,"y":0.67},{"x":4.34,"y":0.98},{"x":4.35,"y":0.61},{"x":4.36,"y":0.87},{"x":4.37,"y":0.49},{"x":4.38,"y":0.91},{"x":4.39,"y":0.72},
{"x":4.40,"y":0.95},{"x":4.41,"y":0.55},{"x":4.42,"y":0.80},{"x":4.43,"y":0.66},{"x":4.44,"y":1.00},{"x":4.45,"y":0.60},{"x":4.46,"y":0.86},{"x":4.47,"y":0.50},{"x":4.48,"y":0.90},{"x":4.49,"y":0.71},
{"x":4.50,"y":0.90},{"x":4.51,"y":0.58},{"x":4.52,"y":0.83},{"x":4.53,"y":0.62},{"x":4.54,"y":0.99},{"x":4.55,"y":0.56},{"x":4.56,"y":0.88},{"x":4.57,"y":0.53},{"x":4.58,"y":0.93},{"x":4.59,"y":0.68},
{"x":4.60,"y":0.92},{"x":4.61,"y":0.57},{"x":4.62,"y":0.80},
{"x":1.805,"y":0.70},{"x":1.815,"y":0.90},{"x":1.825,"y":0.60},{"x":1.835,"y":0.85},{"x":1.845,"y":0.50},{"x":1.855,"y":0.95},{"x":1.865,"y":0.65},{"x":1.875,"y":0.80},{"x":1.885,"y":0.55},{"x":1.895,"y":1.00},
{"x":1.905,"y":0.72},{"x":1.915,"y":0.88},{"x":1.925,"y":0.62},{"x":1.935,"y":0.83},{"x":1.945,"y":0.52},{"x":1.955,"y":0.93},{"x":1.965,"y":0.67},{"x":1.975,"y":0.78},{"x":1.985,"y":0.57},{"x":1.995,"y":0.98},
{"x":2.005,"y":0.68},{"x":2.015,"y":0.92},{"x":2.025,"y":0.58},{"x":2.035,"y":0.87},{"x":2.045,"y":0.48},{"x":2.055,"y":0.97},{"x":2.065,"y":0.63},{"x":2.075,"y":0.82},{"x":2.085,"y":0.53},{"x":2.095,"y":0.96},
{"x":2.105,"y":0.70},{"x":2.115,"y":0.90},{"x":2.125,"y":0.60},{"x":2.135,"y":0.85},{"x":2.145,"y":0.50},{"x":2.155,"y":0.95},{"x":2.165,"y":0.65},{"x":2.175,"y":0.80},{"x":2.185,"y":0.55},{"x":2.195,"y":1.00},
{"x":2.205,"y":0.72},{"x":2.215,"y":0.88},{"x":2.225,"y":0.62},{"x":2.235,"y":0.83},{"x":2.245,"y":0.52},{"x":2.255,"y":0.93},{"x":2.265,"y":0.67},{"x":2.275,"y":0.78},{"x":2.285,"y":0.57},{"x":2.295,"y":0.98},
{"x":2.305,"y":0.68},{"x":2.315,"y":0.92},{"x":2.325,"y":0.58},{"x":2.335,"y":0.87},{"x":2.345,"y":0.48},{"x":2.355,"y":0.97},{"x":2.365,"y":0.63},{"x":2.375,"y":0.82},{"x":2.385,"y":0.53},{"x":2.395,"y":0.96},
{"x":2.405,"y":0.70},{"x":2.415,"y":0.90},{"x":2.425,"y":0.60},{"x":2.435,"y":0.85},{"x":2.445,"y":0.50},{"x":2.455,"y":0.95},{"x":2.465,"y":0.65},{"x":2.475,"y":0.80},{"x":2.485,"y":0.55},{"x":2.495,"y":1.00},
{"x":2.505,"y":0.72},{"x":2.515,"y":0.88},{"x":2.525,"y":0.62},{"x":2.535,"y":0.83},{"x":2.545,"y":0.52},{"x":2.555,"y":0.93},{"x":2.565,"y":0.67},{"x":2.575,"y":0.78},{"x":2.585,"y":0.57},{"x":2.595,"y":0.98},
{"x":2.605,"y":0.68},{"x":2.615,"y":0.92},{"x":2.625,"y":0.58},{"x":2.635,"y":0.87},{"x":2.645,"y":0.48},{"x":2.655,"y":0.97},{"x":2.665,"y":0.63},{"x":2.675,"y":0.82},{"x":2.685,"y":0.53},{"x":2.695,"y":0.96},
{"x":2.705,"y":0.70},{"x":2.715,"y":0.90},{"x":2.725,"y":0.60},{"x":2.735,"y":0.85},{"x":2.745,"y":0.50},{"x":2.755,"y":0.95},{"x":2.765,"y":0.65},{"x":2.775,"y":0.80},{"x":2.785,"y":0.55},{"x":2.795,"y":1.00},
{"x":2.805,"y":0.72},{"x":2.815,"y":0.88},{"x":2.825,"y":0.62},{"x":2.835,"y":0.83},{"x":2.845,"y":0.52},{"x":2.855,"y":0.93},{"x":2.865,"y":0.67},{"x":2.875,"y":0.78},{"x":2.885,"y":0.57},{"x":2.895,"y":0.98},
{"x":2.905,"y":0.68},{"x":2.915,"y":0.92},{"x":2.925,"y":0.58},{"x":2.935,"y":0.87},{"x":2.945,"y":0.48},{"x":2.955,"y":0.97},{"x":2.965,"y":0.63},{"x":2.975,"y":0.82},{"x":2.985,"y":0.53},{"x":2.995,"y":0.96},
{"x":3.005,"y":0.70},{"x":3.015,"y":0.90},{"x":3.025,"y":0.60},{"x":3.035,"y":0.85},{"x":3.045,"y":0.50},{"x":3.055,"y":0.95},{"x":3.065,"y":0.65},{"x":3.075,"y":0.80},{"x":3.085,"y":0.55},{"x":3.095,"y":1.00},
{"x":3.105,"y":0.72},{"x":3.115,"y":0.88},{"x":3.125,"y":0.62},{"x":3.135,"y":0.83},{"x":3.145,"y":0.52},{"x":3.155,"y":0.93},{"x":3.165,"y":0.67},{"x":3.175,"y":0.78},{"x":3.185,"y":0.57},{"x":3.195,"y":0.98},
{"x":3.205,"y":0.68},{"x":3.215,"y":0.92},{"x":3.225,"y":0.58},{"x":3.235,"y":0.87},{"x":3.245,"y":0.48},{"x":3.255,"y":0.97},{"x":3.265,"y":0.63},{"x":3.275,"y":0.82},{"x":3.285,"y":0.53},{"x":3.295,"y":0.96},
{"x":3.305,"y":0.70},{"x":3.315,"y":0.90},{"x":3.325,"y":0.60},{"x":3.335,"y":0.85},{"x":3.345,"y":0.50},{"x":3.355,"y":0.95},{"x":3.365,"y":0.65},{"x":3.375,"y":0.80},{"x":3.385,"y":0.55},{"x":3.395,"y":1.00},
{"x":3.405,"y":0.72},{"x":3.415,"y":0.88},{"x":3.425,"y":0.62},{"x":3.435,"y":0.83},{"x":3.445,"y":0.52},{"x":3.455,"y":0.93},{"x":3.465,"y":0.67},{"x":3.475,"y":0.78},{"x":3.485,"y":0.57},{"x":3.495,"y":0.98},
{"x":3.505,"y":0.68},{"x":3.515,"y":0.92},{"x":3.525,"y":0.58},{"x":3.535,"y":0.87},{"x":3.545,"y":0.48},{"x":3.555,"y":0.97},{"x":3.565,"y":0.63},{"x":3.575,"y":0.82},{"x":3.585,"y":0.53},{"x":3.595,"y":0.96},
{"x":3.605,"y":0.70},{"x":3.615,"y":0.90},{"x":3.625,"y":0.60},{"x":3.635,"y":0.85},{"x":3.645,"y":0.50},{"x":3.655,"y":0.95},{"x":3.665,"y":0.65},{"x":3.675,"y":0.80},{"x":3.685,"y":0.55},{"x":3.695,"y":1.00},
{"x":3.705,"y":0.72},{"x":3.715,"y":0.88},{"x":3.725,"y":0.62},{"x":3.735,"y":0.83},{"x":3.745,"y":0.52},{"x":3.755,"y":0.93},{"x":3.765,"y":0.67},{"x":3.775,"y":0.78},{"x":3.785,"y":0.57},{"x":3.795,"y":0.98},
{"x":3.805,"y":0.68},{"x":3.815,"y":0.92},{"x":3.825,"y":0.58},{"x":3.835,"y":0.87},{"x":3.845,"y":0.48},{"x":3.855,"y":0.97},{"x":3.865,"y":0.63},{"x":3.875,"y":0.82},{"x":3.885,"y":0.53},{"x":3.895,"y":0.96},
{"x":3.905,"y":0.70},{"x":3.915,"y":0.90},{"x":3.925,"y":0.60},{"x":3.935,"y":0.85},{"x":3.945,"y":0.50},{"x":3.955,"y":0.95},{"x":3.965,"y":0.65},{"x":3.975,"y":0.80},{"x":3.985,"y":0.55},{"x":3.995,"y":1.00},
{"x":4.005,"y":0.72},{"x":4.015,"y":0.88},{"x":4.025,"y":0.62},{"x":4.035,"y":0.83},{"x":4.045,"y":0.52},{"x":4.055,"y":0.93},{"x":4.065,"y":0.67},{"x":4.075,"y":0.78},{"x":4.085,"y":0.57},{"x":4.095,"y":0.98},
{"x":4.105,"y":0.68},{"x":4.115,"y":0.92},{"x":4.125,"y":0.58},{"x":4.135,"y":0.87},{"x":4.145,"y":0.48},{"x":4.155,"y":0.97},{"x":4.165,"y":0.63},{"x":4.175,"y":0.82},{"x":4.185,"y":0.53},{"x":4.195,"y":0.96},
{"x":4.205,"y":0.70},{"x":4.215,"y":0.90},{"x":4.225,"y":0.60},{"x":4.235,"y":0.85},{"x":4.245,"y":0.50},{"x":4.255,"y":0.95},{"x":4.265,"y":0.65},{"x":4.275,"y":0.80},{"x":4.285,"y":0.55},{"x":4.295,"y":1.00},
{"x":4.305,"y":0.72},{"x":4.315,"y":0.88},{"x":4.325,"y":0.62},{"x":4.335,"y":0.83},{"x":4.345,"y":0.52},{"x":4.355,"y":0.93},{"x":4.365,"y":0.67},{"x":4.375,"y":0.78},{"x":4.385,"y":0.57},{"x":4.395,"y":0.98},
{"x":4.405,"y":0.68},{"x":4.415,"y":0.92},{"x":4.425,"y":0.58},{"x":4.435,"y":0.87},{"x":4.445,"y":0.48},{"x":4.455,"y":0.97},{"x":4.465,"y":0.63},{"x":4.475,"y":0.82},{"x":4.485,"y":0.53},{"x":4.495,"y":0.96},
{"x":4.505,"y":0.70},{"x":4.515,"y":0.90},{"x":4.525,"y":0.60},{"x":4.535,"y":0.85},{"x":4.545,"y":0.50},{"x":4.555,"y":0.95},{"x":4.565,"y":0.65},{"x":4.575,"y":0.80},{"x":4.585,"y":0.55},{"x":4.595,"y":1.00},
{"x":4.605,"y":0.70},{"x":4.615,"y":0.90},
{"x":1.812,"y":0.40},{"x":1.832,"y":1.08},{"x":1.852,"y":0.43},{"x":1.872,"y":1.05},{"x":1.892,"y":0.41},{"x":1.912,"y":1.10},{"x":1.932,"y":0.45},{"x":1.952,"y":1.06},{"x":1.972,"y":0.40},{"x":1.992,"y":1.08},
{"x":2.012,"y":0.43},{"x":2.032,"y":1.05},{"x":2.052,"y":0.41},{"x":2.072,"y":1.10},{"x":2.092,"y":0.45},{"x":2.112,"y":1.06},{"x":2.132,"y":0.40},{"x":2.152,"y":1.08},{"x":2.172,"y":0.43},{"x":2.192,"y":1.05},
{"x":2.212,"y":0.41},{"x":2.232,"y":1.10},{"x":2.252,"y":0.45},{"x":2.272,"y":1.06},{"x":2.292,"y":0.40},{"x":2.312,"y":1.08},{"x":2.332,"y":0.43},{"x":2.352,"y":1.05},{"x":2.372,"y":0.41},{"x":2.392,"y":1.10},
{"x":2.412,"y":0.45},{"x":2.432,"y":1.06},{"x":2.452,"y":0.40},{"x":2.472,"y":1.08},{"x":2.492,"y":0.43},{"x":2.512,"y":1.05},{"x":2.532,"y":0.41},{"x":2.552,"y":1.10},{"x":2.572,"y":0.45},{"x":2.592,"y":1.06},
{"x":2.612,"y":0.40},{"x":2.632,"y":1.08},{"x":2.652,"y":0.43},{"x":2.672,"y":1.05},{"x":2.692,"y":0.41},{"x":2.712,"y":1.10},{"x":2.732,"y":0.45},{"x":2.752,"y":1.06},{"x":2.772,"y":0.40},{"x":2.792,"y":1.08},
{"x":2.812,"y":0.43},{"x":2.832,"y":1.05},{"x":2.852,"y":0.41},{"x":2.872,"y":1.10},{"x":2.892,"y":0.45},{"x":2.912,"y":1.06},{"x":2.932,"y":0.40},{"x":2.952,"y":1.08},{"x":2.972,"y":0.43},{"x":2.992,"y":1.05},
{"x":3.012,"y":0.41},{"x":3.032,"y":1.10},{"x":3.052,"y":0.45},{"x":3.072,"y":1.06},{"x":3.092,"y":0.40},{"x":3.112,"y":1.08},{"x":3.132,"y":0.43},{"x":3.152,"y":1.05},{"x":3.172,"y":0.41},{"x":3.192,"y":1.10},
{"x":3.212,"y":0.45},{"x":3.232,"y":1.06},{"x":3.252,"y":0.40},{"x":3.272,"y":1.08},{"x":3.292,"y":0.43},{"x":3.312,"y":1.05},{"x":3.332,"y":0.41},{"x":3.352,"y":1.10},{"x":3.372,"y":0.45},{"x":3.392,"y":1.06},
{"x":3.412,"y":0.40},{"x":3.432,"y":1.08},{"x":3.452,"y":0.43},{"x":3.472,"y":1.05},{"x":3.492,"y":0.41},{"x":3.512,"y":1.10},{"x":3.532,"y":0.45},{"x":3.552,"y":1.06},{"x":3.572,"y":0.40},{"x":3.592,"y":1.08},
{"x":3.612,"y":0.43},{"x":3.632,"y":1.05},{"x":3.652,"y":0.41},{"x":3.672,"y":1.10},{"x":3.692,"y":0.45},{"x":3.712,"y":1.06},{"x":3.732,"y":0.40},{"x":3.752,"y":1.08},{"x":3.772,"y":0.43},{"x":3.792,"y":1.05},
{"x":3.812,"y":0.41},{"x":3.832,"y":1.10},{"x":3.852,"y":0.45},{"x":3.872,"y":1.06},{"x":3.892,"y":0.40},{"x":3.912,"y":1.08},{"x":3.932,"y":0.43},{"x":3.952,"y":1.05},{"x":3.972,"y":0.41},{"x":3.992,"y":1.10},
{"x":4.012,"y":0.45},{"x":4.032,"y":1.06},{"x":4.052,"y":0.40},{"x":4.072,"y":1.08},{"x":4.092,"y":0.43},{"x":4.112,"y":1.05},{"x":4.132,"y":0.41},{"x":4.152,"y":1.10},{"x":4.172,"y":0.45},{"x":4.192,"y":1.06},
{"x":4.212,"y":0.40},{"x":4.232,"y":1.08},{"x":4.252,"y":0.43},{"x":4.272,"y":1.05},{"x":4.292,"y":0.41},{"x":4.312,"y":1.10},{"x":4.332,"y":0.45},{"x":4.352,"y":1.06},{"x":4.372,"y":0.40},{"x":4.392,"y":1.08},
{"x":4.412,"y":0.43},{"x":4.432,"y":1.05},{"x":4.452,"y":0.41},{"x":4.472,"y":1.10},{"x":4.492,"y":0.45},{"x":4.512,"y":1.06},{"x":4.532,"y":0.40},{"x":4.552,"y":1.08},{"x":4.572,"y":0.43},{"x":4.592,"y":1.05},
{"x":4.612,"y":0.41},
{"x":0.58,"y":12.8},{"x":0.89,"y":13.3},{"x":0.75,"y":11.3},{"x":0.58,"y":10.1},{"x":0.59,"y":9.1},{"x":0.58,"y":8.6},{"x":0.582,"y":8.4},{"x":0.57,"y":7.9},{"x":0.59,"y":7.0},{"x":0.65,"y":6.6},
{"x":0.56,"y":5.3},{"x":0.67,"y":4.7},{"x":0.42,"y":3.3},{"x":0.57,"y":3.9},{"x":0.61,"y":3.4},{"x":0.54,"y":1.9},{"x":0.52,"y":-0.07},{"x":0.57,"y":-0.7},{"x":0.05,"y":-0.07},{"x":0.09,"y":-0.7},
{"x":0.68,"y":1.0},{"x":0.70,"y":0.7},{"x":0.74,"y":1.35},{"x":0.83,"y":3.85},{"x":0.87,"y":2.6},{"x":0.89,"y":2.7},{"x":0.96,"y":4.7},{"x":1.11,"y":3.3},{"x":1.40,"y":6.4},{"x":1.43,"y":5.1},
{"x":1.40,"y":3.1},{"x":1.41,"y":2.8},{"x":1.43,"y":2.2},{"x":1.63,"y":7.2},{"x":1.63,"y":5.7},{"x":1.67,"y":4.9},{"x":1.62,"y":4.0},{"x":1.64,"y":1.6},{"x":1.65,"y":-0.1},{"x":1.66,"y":-0.55},
{"x":1.32,"y":-0.3},{"x":1.27,"y":0.1},{"x":1.71,"y":1.8},{"x":1.53,"y":1.6},{"x":1.36,"y":1.8},{"x":1.29,"y":1.6},{"x":2.83,"y":5.5},{"x":4.06,"y":6.8},{"x":4.43,"y":4.3},{"x":1.83,"y":2.2},
{"x":2.35,"y":2.7},{"x":3.20,"y":2.6},{"x":3.42,"y":2.8},{"x":3.42,"y":2.2},{"x":3.46,"y":2.2},{"x":3.50,"y":1.7},{"x":3.60,"y":1.8},{"x":3.77,"y":2.7},{"x":3.81,"y":3.0},{"x":4.17,"y":2.8},
{"x":4.19,"y":1.6},{"x":4.30,"y":1.7},{"x":1.98,"y":-1.8},{"x":2.05,"y":-1.15},{"x":2.42,"y":-0.2},{"x":2.16,"y":-0.1},{"x":2.56,"y":-0.55},{"x":2.56,"y":-0.45},{"x":2.94,"y":-0.95},{"x":3.32,"y":-0.8},
{"x":3.86,"y":-3.85},{"x":4.17,"y":-1.1},{"x":3.90,"y":0.0},{"x":3.49,"y":0.1},{"x":4.20,"y":0.1},{"x":1.79,"y":1.5},{"x":2.69,"y":1.5},{"x":2.94,"y":1.8},{"x":2.91,"y":1.7},{"x":3.32,"y":1.7},
{"x":3.75,"y":1.6},{"x":2.51,"y":1.35},{"x":2.55,"y":1.6},{"x":4.42,"y":1.35},{"x":4.56,"y":1.2},{"x":3.14,"y":1.35},{"x":2.79,"y":1.35}
],
"vline":[{"x":0.80}],
"labTop":[{"x":1.113,"v":1.556,"label":"attB"}],
"labBot":[{"x":1.114,"y":14.73,"label":"attB","series":"DNA t=60/t=0"}]
},
"vconcat":[
{"width":992,"height":335,
"layer":[
{"data":{"name":"mrna"},"mark":{"type":"line","strokeWidth":3.7,"clip":true},
"encoding":{
"x":{"field":"x","type":"quantitative","scale":{"domain":[-0.165,4.807],"nice":false,"zero":false},
"axis":{"values":[0,1,2,3,4],"labelExpr":"datum.value == 0 ? '0\u00a0\u00a0\u00a0e+00' : datum.value + '\u00a0\u00a0\u00a0e+06'","labelAlign":"left","labelBaseline":"alphabetic","labelPadding":45,"labelFontSize":25,"offset":1,"title":"Distance From Origin (bp)","titleFontSize":26,"titleX":405,"titleY":120,"titleAlign":"center","titleBaseline":"alphabetic","titleAngle":0}},
"y":{"field":"v","type":"quantitative","scale":{"domain":[-0.48,1.89],"nice":false,"zero":false},
"axis":{"values":[0,0.5,1,1.5],"format":".1f","labelAngle":-90,"labelAlign":"center","labelBaseline":"alphabetic","labelPadding":21,"labelFontSize":20,"title":"mRNA: Log2Ratio","titleFontSize":26,"titleX":-86,"titleY":155,"titleAngle":270,"titleAlign":"center","titleBaseline":"alphabetic"}},
"color":{"field":"s","type":"nominal","scale":{"domain":["mRNA t=20","mRNA t=40","mRNA t=60"],"range":["#FF1A1A","#231C8E","#000000"]},
"legend":{"orient":"none","legendX":726,"legendY":34,"title":null,"symbolType":"square","symbolSize":290,"symbolStrokeColor":"black","symbolStrokeWidth":1,"padding":18,"rowPadding":5,"labelOffset":19,
"encode":{"symbols":{"update":{"fill":{"signal":"datum.value == 'mRNA t=20' ? '#FF1A1A' : (datum.value == 'mRNA t=40' ? '#231C8E' : '#000000')"},"stroke":{"value":"black"},"strokeWidth":{"value":1},"opacity":{"value":1}}}}}}
}},
{"data":{"name":"vline"},"mark":{"type":"rule","color":"black","strokeWidth":1.2},"encoding":{"x":{"field":"x","type":"quantitative"}}},
{"data":{"name":"labTop"},"mark":{"type":"text","fontSize":25,"font":"Liberation Sans","color":"black","align":"center","baseline":"middle"},
"encoding":{"x":{"field":"x","type":"quantitative"},"y":{"field":"v","type":"quantitative"},"text":{"field":"label"}}}
]},
{"width":992,"height":336,
"layer":[
{"data":{"name":"dna"},"mark":{"type":"point","shape":"circle","filled":false,"size":70,"strokeWidth":2.1,"opacity":1,"color":"black","clip":true},
"encoding":{
"x":{"field":"x","type":"quantitative","scale":{"domain":[-0.172,4.81],"nice":false,"zero":false},
"axis":{"values":[0,1,2,3,4],"labelExpr":"datum.value == 0 ? '0\u00a0\u00a0\u00a0e+00' : datum.value + '\u00a0\u00a0\u00a0e+06'","labelAlign":"left","labelBaseline":"alphabetic","labelPadding":45,"labelFontSize":25,"offset":1,"title":"Distance from Origin (bp)","titleFontSize":26,"titleX":405,"titleY":113,"titleAlign":"center","titleBaseline":"alphabetic","titleAngle":0}},
"y":{"field":"y","type":"quantitative","scale":{"domain":[-3.85,18.7],"nice":false,"zero":false},
"axis":{"values":[0,5,10,15],"format":"d","labelAngle":-90,"labelAlign":"center","labelBaseline":"alphabetic","labelPadding":21,"labelFontSize":20,"title":"DNA (t=60/t=0)","titleFontSize":26,"titleX":-86,"titleY":160,"titleAngle":270,"titleAlign":"center","titleBaseline":"alphabetic"}}
}},
{"data":{"name":"labBot"},"mark":{"type":"square","filled":true,"size":0,"opacity":1},
"encoding":{"x":{"field":"x","type":"quantitative"},"y":{"field":"y","type":"quantitative"},
"color":{"field":"series","type":"nominal","scale":{"range":["black"]},
"legend":{"orient":"none","legendX":718,"legendY":42,"title":null,"symbolType":"square","symbolSize":400,"symbolFillColor":"black","symbolStrokeColor":"black","padding":20,"labelOffset":20}}}},
{"data":{"name":"vline"},"mark":{"type":"rule","color":"black","strokeWidth":1.2},"encoding":{"x":{"field":"x","type":"quantitative"}}},
{"data":{"name":"labBot"},"mark":{"type":"text","fontSize":25,"font":"Liberation Sans","color":"black","align":"center","baseline":"middle"},
"encoding":{"x":{"field":"x","type":"quantitative"},"y":{"field":"y","type":"quantitative"},"text":{"field":"label"}}}
]}
]
}
